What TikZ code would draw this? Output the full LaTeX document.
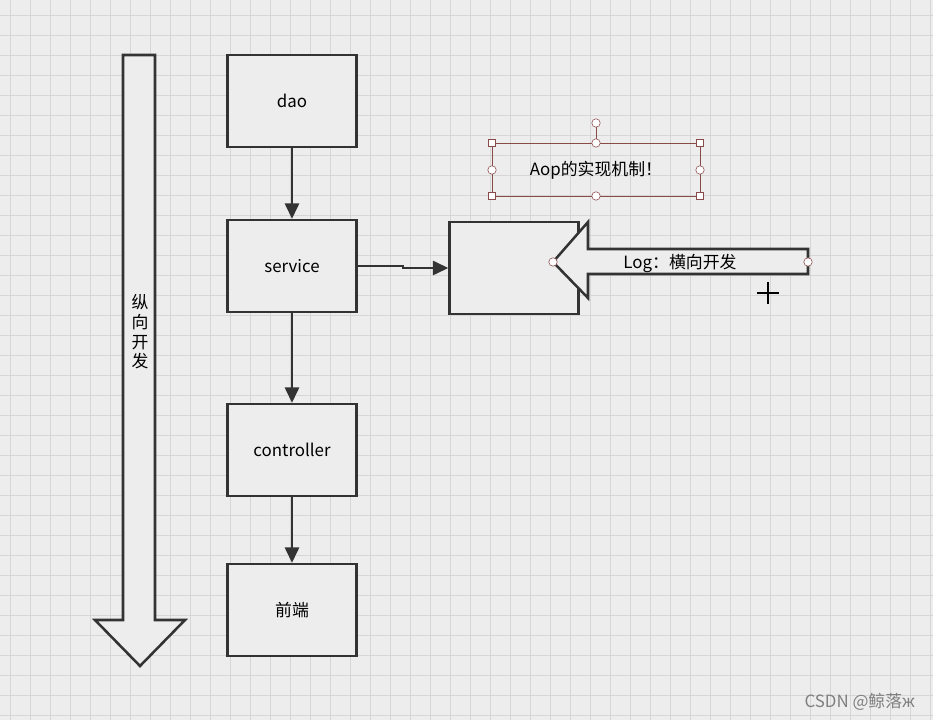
\documentclass[tikz,border=0pt]{standalone}
\usepackage{fontspec}
\setmainfont{Noto Sans CJK SC}
\usetikzlibrary{arrows.meta}
\definecolor{paper}{HTML}{EDEDED}
\definecolor{gridline}{HTML}{D6D6D6}
\definecolor{ink}{HTML}{333333}
\definecolor{handle}{HTML}{8B4A4A}
\tikzset{
  box/.style={draw=ink, line width=1.6pt, fill=paper, minimum width=3.225cm, minimum height=2.3cm, font=\large},
  flow/.style={draw=ink, line width=1.8pt, -{Triangle[length=11pt,width=10pt]}},
  fat/.style={draw=ink, line width=1.8pt, fill=paper, line join=miter},
  sq/.style={draw=handle, fill=white, minimum size=5pt, inner sep=0pt},
  dot/.style={circle, draw=handle, fill=white, minimum size=6pt, inner sep=0pt}
}
\begin{document}
\begin{tikzpicture}[x=0.025cm, y=-0.025cm]
\fill[paper] (0,0) rectangle (933,720);
\useasboundingbox (0,0) rectangle (933,720);
\foreach \gx in {10,30,...,930} \draw[gridline, line width=0.4pt] (\gx,0) -- (\gx,720);
\foreach \gy in {15,35,...,715} \draw[gridline, line width=0.4pt] (0,\gy) -- (933,\gy);
% vertical arrow
\draw[fat] (123,55) -- (155,55) -- (155,620) -- (185,620) -- (140,666) -- (95,620) -- (123,620) -- cycle;
\node[font=\large, align=center, inner sep=0pt] (vert) at (140,332) {纵\\向\\开\\发};
% layers
\node[box] (dao) at (292,101) {dao};
\node[box] (service) at (292,266) {service};
\node[box] (controller) at (292,450) {controller};
\node[box] (front) at (292,610) {前端};
\node[box] (aspect) at (514,268) {};
\draw[flow] (dao) -- (service);
\draw[flow] (service) -- (controller);
\draw[flow] (controller) -- (front);
\draw[flow] (service.east) -- (403,266) -- (403,268) -- (aspect.west);
% horizontal arrow
\draw[fat] (808,249) -- (588,249) -- (588,222) -- (553,262) -- (588,298) -- (588,274) -- (808,274) -- cycle;
\node[font=\large] (log) at (680,263) {Log：横向开发};
\node[dot] (tipA) at (553,262) {};
\node[dot] (tipB) at (808,262) {};
% selected text
\draw[handle, line width=0.6pt] (492,143) rectangle (700,196);
\node[font=\large] (aop) at (596,170) {Aop的实现机制！};
\coordinate (top) at (596,143);
\node[dot] (rot) at (596,123) {};
\draw[handle, line width=0.6pt] (rot) -- (top);
\foreach \hx/\hy in {492/143,700/143,492/196,700/196} \node[sq] at (\hx,\hy) {};
\foreach \hx/\hy in {596/143,596/196,492/170,700/170} \node[dot] at (\hx,\hy) {};
% cursor
\draw[black, line width=1.2pt] (757,293) -- (779,293) (768,282) -- (768,304);
\node[text=gray, font=\large, anchor=east] (mark) at (920,702) {CSDN @鲸落ж};
\end{tikzpicture}
\end{document}
